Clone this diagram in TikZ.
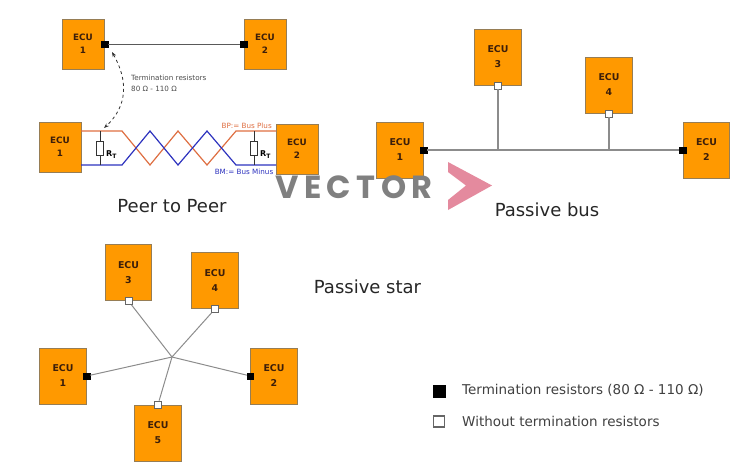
\documentclass[tikz,border=0pt]{standalone}
\usepackage{fontspec}
\usepackage{xcolor}
\usepackage{tikz}
\usetikzlibrary{positioning,arrows.meta,calc}
\setmainfont{DejaVu Sans}
\newfontfamily\logofont[LetterSpace=17]{Poppins}
\definecolor{EcuOrange}{RGB}{255,153,0}
\definecolor{EcuEdge}{RGB}{150,125,85}
\definecolor{EcuText}{RGB}{60,30,10}
\definecolor{WireGray}{RGB}{140,140,140}
\definecolor{PlusRed}{RGB}{222,110,65}
\definecolor{MinusBlue}{RGB}{45,50,190}
\definecolor{LogoPink}{RGB}{228,138,158}
\definecolor{LogoGray}{RGB}{128,128,128}
\tikzset{
  ecu/.style={rectangle, draw=EcuEdge, fill=EcuOrange, line width=1pt, align=center,
    text=EcuText, inner sep=0pt, minimum width=42pt, minimum height=50pt,
    font=\fontsize{8.8}{13}\selectfont\bfseries},
  ecubig/.style={ecu, minimum width=46.5pt, minimum height=56pt,
    font=\fontsize{9.4}{15}\selectfont\bfseries},
  term/.style={rectangle, draw=black, fill=black, inner sep=0pt, minimum size=6.5pt},
  free/.style={rectangle, draw=gray!80!black, fill=white, line width=0.9pt, inner sep=0pt, minimum size=7pt},
  wire/.style={draw=WireGray, line width=1.2pt},
  wiretop/.style={draw=black!65, line width=1pt},
  plus/.style={draw=PlusRed, line width=1.2pt},
  minus/.style={draw=MinusBlue, line width=1.2pt},
  res/.style={rectangle, draw=black!80, fill=white, line width=0.9pt, inner sep=0pt,
    minimum width=7pt, minimum height=14pt},
  title/.style={font=\fontsize{18}{20}\selectfont, text=black!85, inner sep=0pt},
  small/.style={font=\fontsize{7.2}{11}\selectfont, inner sep=0pt},
  legend/.style={font=\fontsize{13.5}{14}\selectfont, text=black!75, inner sep=0pt, anchor=west},
  dasharrow/.style={{Stealth[length=5pt]}-{Stealth[length=5pt]}, dashed, black!80, line width=0.8pt}
}
\begin{document}
\begin{tikzpicture}[x=1pt,y=-1pt]
  \useasboundingbox (0,0) rectangle (752,467);
  % peer to peer, upper part
  \node[ecu] (topa) at (83,44) {ECU\\1};
  \node[ecu] (topb) at (265,44) {ECU\\2};
  \node[term] (ta) at (topa.east) {};
  \node[term] (tb) at (topb.west) {};
  \draw[wiretop] (ta) -- (tb);
  \node[small, anchor=west, align=left, text=black!70] (termtext) at (131,83.5) {Termination resistors\\80 Ω - 110 Ω};
  % peer to peer, twisted pair
  \node[ecu] (pa) at (60,147) {ECU\\1};
  \node[ecu] (pb) at (297,149) {ECU\\2};
  \coordinate (arrowtop) at (112,52);
  \coordinate (arrowbot) at (104,128);
  \draw[dasharrow] (arrowtop) .. controls +(16,28) and +(24,-22) .. (arrowbot);
  \draw[plus] (81,131) -- (122,131) -- (150,165) -- (178,131) -- (207,165) -- (236,131) -- (276,131);
  \draw[minus] (81,165) -- (122,165) -- (150,131) -- (178,165) -- (207,131) -- (236,165) -- (276,165);
  \node[res] (ra) at (100,148) {};
  \node[res] (rb) at (254,148) {};
  \draw[black!80, line width=0.8pt] (ra.north) -- (ra.north |- 0,131) (ra.south) -- (ra.south |- 0,165);
  \draw[black!80, line width=0.8pt] (rb.north) -- (rb.north |- 0,131) (rb.south) -- (rb.south |- 0,165);
  \node[small, font=\fontsize{8}{9}\selectfont\bfseries, right=2pt of ra.south east, anchor=west, yshift=1pt] (rta) {R$_{\mathbf{T}}$};
  \node[small, font=\fontsize{8}{9}\selectfont\bfseries, right=2pt of rb.south east, anchor=west, yshift=1pt] (rtb) {R$_{\mathbf{T}}$};
  \node[small, text=PlusRed, anchor=east] (bptext) at (272,126) {BP:= Bus Plus};
  \node[small, text=MinusBlue, anchor=east] (bmtext) at (273.5,172) {BM:= Bus Minus};
  \node[title] (peer) at (172,206) {Peer to Peer};
  % passive bus
  \node[ecubig] (busa) at (400,150) {ECU\\1};
  \node[ecubig] (busb) at (706.5,150) {ECU\\2};
  \node[ecubig] (busc) at (498,57) {ECU\\3};
  \node[ecubig] (busd) at (609,85) {ECU\\4};
  \node[term] (ba) at (busa.east) {};
  \node[term] (bb) at (busb.west) {};
  \node[free] (bc) at (busc.south) {};
  \node[free] (bd) at (busd.south) {};
  \draw[wire] (ba) -- (bb);
  \draw[wire] (bc) -- (bc |- ba);
  \draw[wire] (bd) -- (bd |- ba);
  \node[title] (bustitle) at (547,210) {Passive bus};
  % passive star
  \node[ecubig] (stara) at (63,376) {ECU\\1};
  \node[ecubig] (starb) at (274,376) {ECU\\2};
  \node[ecubig] (starc) at (128.5,272.5) {ECU\\3};
  \node[ecubig] (stard) at (215,280.5) {ECU\\4};
  \node[ecubig] (stare) at (158,433) {ECU\\5};
  \node[term] (sa) at (stara.east) {};
  \node[term] (sb) at (starb.west) {};
  \node[free] (sc) at (starc.south) {};
  \node[free] (sd) at (stard.south) {};
  \node[free] (se) at (stare.north) {};
  \coordinate (hub) at (172,357);
  \foreach \leaf in {sa,sb,sc,sd,se}
    \draw[wire, line width=1pt] (\leaf) -- (hub);
  \node[title] (startitle) at (367.5,287) {Passive star};
  % legend
  \node[term, minimum size=11.5pt] (legblack) at (439,391) {};
  \node[free, minimum size=11pt, line width=1.1pt] (legwhite) at (439,421.5) {};
  \node[legend] (legone) at (462,390) {Termination resistors (80 Ω - 110 Ω)};
  \node[legend] (legtwo) at (462,421) {Without termination resistors};
  % logo
  \node[inner sep=0pt, text=LogoGray, font=\fontsize{32}{33}\logofont\bfseries] (logo) at (354,187) {VECTOR};
  \fill[LogoPink] (448,162) -- (492,185.5) -- (448,210) -- (448,200) -- (466,185.5) -- (448,172) -- cycle;
\end{tikzpicture}
\end{document}
